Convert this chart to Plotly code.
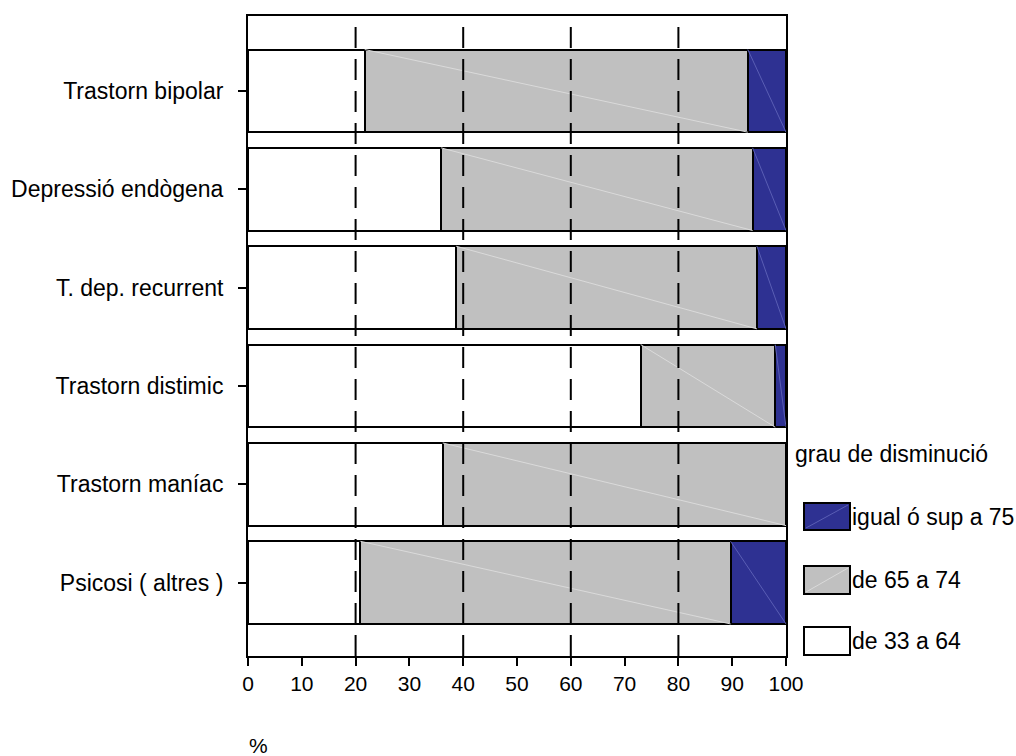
import plotly.graph_objects as go

# ---------------- data ----------------
categories = ["Trastorn bipolar", "Depressió endògena", "T. dep. recurrent",
              "Trastorn distimic", "Trastorn maníac", "Psicosi ( altres )"]
low_vals = [21.7, 35.9, 38.7, 73.0, 36.2, 20.9]    # de 33 a 64
mid_vals = [71.2, 57.9, 55.9, 25.0, 63.8, 68.8]    # de 65 a 74
high_vals = [7.1, 6.2, 5.4, 2.0, 0.0, 10.3]        # igual ó sup a 75
series_names = ["de 33 a 64", "de 65 a 74", "igual ó sup a 75"]
series_colors = ["#FFFFFF", "#C0C0C0", "#2E3192"]
x_ticks = list(range(0, 101, 10))
grid_vals = [20, 40, 60, 80]
legend_title = "grau de disminució"
x_title = "%"

# ---------------- layout constants ----------------
W, H = 1016, 756
L, R, T, B = 248, 230, 16, 100
FONT = "Liberation Sans, Arial, sans-serif"
FS = 23
FSX = 21
BW = 0.84
pos = list(range(len(categories)))


def px(x):
    return (x - L) / (W - L - R)


def py(y):
    return (H - B - y) / (H - T - B)


fig = go.Figure()
vals = [low_vals, mid_vals, high_vals]
for name, col, v in zip(series_names, series_colors, vals):
    fig.add_trace(go.Bar(
        orientation="h", y=pos, x=v, name=name, width=BW,
        marker=dict(color=col, line=dict(color="black", width=2)),
        showlegend=False, hoverinfo="x+name"))

# faint diagonal shading artefacts inside segments
dxm, dym, dxh, dyh = [], [], [], []
for i in pos:
    s = low_vals[i]
    e = s + mid_vals[i]
    dxm += [s, e, None]
    dym += [i - BW / 2, i + BW / 2, None]
    if high_vals[i] > 0:
        dxh += [e, e + high_vals[i], None]
        dyh += [i - BW / 2, i + BW / 2, None]
fig.add_trace(go.Scatter(x=dxm, y=dym, mode="lines", line=dict(color="#DADADA", width=1),
                         showlegend=False, hoverinfo="skip"))
fig.add_trace(go.Scatter(x=dxh, y=dyh, mode="lines", line=dict(color="#5A5EB4", width=1),
                         showlegend=False, hoverinfo="skip"))

shapes = []
for g in grid_vals:
    shapes.append(dict(type="line", xref="x", yref="paper", x0=g, x1=g, y0=0, y1=1,
                       line=dict(color="black", width=2, dash="21px,11px"), layer="above"))

# custom legend
annotations = [
    dict(text=legend_title, x=px(793), y=py(454), xref="paper", yref="paper",
         xanchor="left", yanchor="middle", showarrow=False,
         font=dict(family=FONT, size=FS, color="black")),
    dict(text=x_title, x=px(258), y=py(745), xref="paper", yref="paper",
         xanchor="center", yanchor="middle", showarrow=False,
         font=dict(family=FONT, size=FSX, color="black")),
]
leg_items = [(series_names[2], series_colors[2], 503, 530, "#5A5EB4"),
             (series_names[1], series_colors[1], 566, 594, "#DADADA"),
             (series_names[0], series_colors[0], 627, 655, None)]
for name, col, y0, y1, dcol in leg_items:
    shapes.append(dict(type="rect", xref="paper", yref="paper",
                       x0=px(804), x1=px(850), y0=py(y1), y1=py(y0),
                       fillcolor=col, line=dict(color="black", width=2)))
    if dcol:
        shapes.append(dict(type="line", xref="paper", yref="paper",
                           x0=px(806), x1=px(848), y0=py(y1 - 2), y1=py(y0 + 2),
                           line=dict(color=dcol, width=1)))
    annotations.append(dict(text=name, x=px(850), y=py((y0 + y1) / 2), xref="paper", yref="paper",
                            xanchor="left", yanchor="middle", showarrow=False,
                            font=dict(family=FONT, size=FS, color="black")))

fig.update_layout(
    width=W, height=H, barmode="stack", bargap=0.16,
    margin=dict(l=L, r=R, t=T, b=B, pad=0),
    paper_bgcolor="white", plot_bgcolor="white",
    font=dict(family=FONT, size=FS, color="black"),
    shapes=shapes, annotations=annotations, showlegend=False,
)
fig.update_xaxes(range=[0, 100], tickvals=x_ticks, ticks="outside", ticklen=8, tickwidth=2,
                 tickcolor="black", showgrid=False, zeroline=False, showline=True,
                 linecolor="black", linewidth=2, mirror=True,
                 tickfont=dict(family=FONT, size=FSX))
fig.update_yaxes(range=[5.746, -0.761], tickvals=pos, ticktext=categories, ticks="outside",
                 ticklen=8, tickwidth=2, tickcolor="black", showgrid=False, zeroline=False,
                 showline=True, linecolor="black", linewidth=2, mirror=True,
                 ticklabelstandoff=10, tickfont=dict(family=FONT, size=FS))

fig.write_html("out.html", post_script="document.body.style.margin='0';",
               config={"displayModeBar": False})
